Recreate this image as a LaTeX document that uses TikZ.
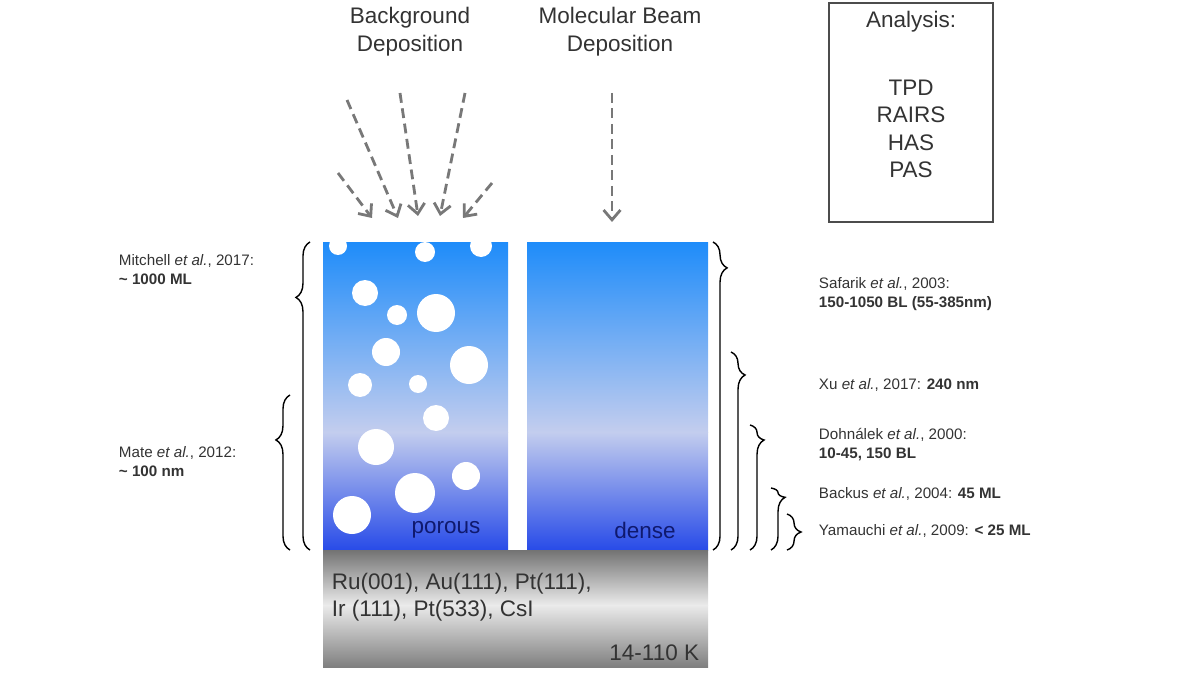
\documentclass[tikz,border=0pt]{standalone}
\usepackage{fontspec}
\setmainfont{Liberation Sans}
\usetikzlibrary{decorations.pathreplacing,arrows.meta}
\definecolor{icetop}{RGB}{30,140,250}
\definecolor{icemid}{RGB}{195,205,238}
\definecolor{icebot}{RGB}{40,75,232}
\definecolor{inktext}{RGB}{15,25,110}
\definecolor{arrowgray}{RGB}{120,120,120}
\tikzset{
    beam/.style={arrowgray, line width=2pt, dash pattern=on 7pt off 4pt, -{Straight Barb[length=7pt,width=12pt,line width=2pt]}},
    rbrace/.style={decorate, line width=1pt, decoration={brace, amplitude=10pt, aspect=#1}},
    cite/.style={anchor=west, align=left, font=\fontsize{10.8}{13.5}\selectfont, text=black!80},
    big/.style={font=\fontsize{16}{20}\selectfont, text=black!80}
}
\begin{document}
\begin{tikzpicture}[x=0.025cm, y=-0.025cm]
        \useasboundingbox (0,0) rectangle (1200,675) ;

        % deposition headers
        \node[big, align=center] (bgdep) at (410, 32) {Background\\Deposition} ;
        \node[big, align=center] (mbdep) at (620, 32) {Molecular Beam\\Deposition} ;

        % analysis box
        \draw[thick, black!70] (829,3) rectangle (993,222) ;
        \node[big] (analysis) at (911, 22) {Analysis:} ;
        \node[big, align=center, font=\fontsize{16}{19.5}\selectfont] (methods) at (911, 129) {TPD\\RAIRS\\HAS\\PAS} ;

        % ice columns
        \shade[top color=icetop, bottom color=icemid] (323,242) rectangle (508,432) ;
        \shade[top color=icemid, bottom color=icebot] (323,432) rectangle (508,550) ;
        \shade[top color=icetop, bottom color=icemid] (527,242) rectangle (708,432) ;
        \shade[top color=icemid, bottom color=icebot] (527,432) rectangle (708,550) ;

        % pores
        \begin{scope}
            \clip (323,242) rectangle (508,550) ;
            \foreach \px/\py/\pr in {338/246/9, 425/252/10, 481/246/11, 365/293/13, 397/315/10,
                    436/313/19, 386/352/14, 469/365/19, 360/385/12, 418/384/9, 436/418/13,
                    376/447/18, 466/476/14, 415/493/20, 352/515/19}
                \fill[white] (\px,\py) circle (\pr) ;
        \end{scope}
        \node[big, text=inktext] (porous) at (446, 530) {porous} ;
        \node[big, text=inktext] (dense) at (645, 530) {dense} ;

        % substrate
        \shade[top color=black!55, bottom color=black!8] (323,550) rectangle (708,605) ;
        \shade[top color=black!8, bottom color=black!50] (323,605) rectangle (708,667) ;
        \node[big, anchor=west, align=left, font=\fontsize{16}{19}\selectfont] (metals) at (327, 597) {Ru(001), Au(111), Pt(111),\\Ir (111), Pt(533), CsI} ;
        \node[big, anchor=east] (temp) at (704, 653) {14-110 K} ;

        % beams
        \foreach \sx/\sy/\ex/\ey [count=\i] in {338/173/372/218, 347/100/398/218, 400/93/418/216,
                465/93/440/216, 492/183/463/218, 612/93/612/222} {
            \coordinate (s\i) at (\sx,\sy) ;
            \coordinate (e\i) at (\ex,\ey) ;
            \draw[beam] (s\i) -- (e\i) ;
        }

        % left braces
        \draw[rbrace=0.82] (310,550) -- (310,242) ;
        \draw[rbrace=0.71] (290,550) -- (290,395) ;
        \node[cite] (mitchell) at (114, 270) {Mitchell \textit{et al.}, 2017:\\\textbf{\textasciitilde\ 1000 ML}} ;
        \node[cite] (mate) at (114, 462) {Mate \textit{et al.}, 2012:\\\textbf{\textasciitilde\ 100 nm}} ;

        % right braces
        \draw[rbrace=0.084] (713,242) -- (713,550) ;
        \draw[rbrace=0.116] (731,352) -- (731,550) ;
        \draw[rbrace=0.12] (750,425) -- (750,550) ;
        \draw[rbrace=0.15] (771,488) -- (771,550) ;
        \draw[rbrace=0.5] (787,514) -- (787,550) ;
        \node[cite] (safarik) at (814, 294) {Safarik \textit{et al.}, 2003:\\\textbf{150-1050 BL (55-385nm)}} ;
        \node[cite] (xu) at (814, 385) {Xu \textit{et al.}, 2017: \textbf{240 nm}} ;
        \node[cite] (dohnalek) at (814, 445) {Dohnálek \textit{et al.}, 2000:\\\textbf{10-45, 150 BL}} ;
        \node[cite] (backus) at (814, 494) {Backus \textit{et al.}, 2004: \textbf{45 ML}} ;
        \node[cite] (yamauchi) at (814, 531) {Yamauchi \textit{et al.}, 2009: \textbf{< 25 ML}} ;
\end{tikzpicture}
\end{document}
